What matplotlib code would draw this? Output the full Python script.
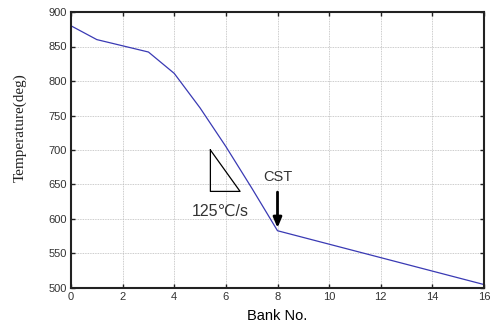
import matplotlib
matplotlib.use("Agg")
import matplotlib.pyplot as plt

bank = [0, 1, 2, 3, 4, 5, 6, 7, 8, 16]
temp = [880, 860, 851, 842, 811, 761, 705, 645, 583, 505]

xticks = [0, 2, 4, 6, 8, 10, 12, 14, 16]
yticks = [500, 550, 600, 650, 700, 750, 800, 850, 900]

tri_x = [5.4, 5.4, 6.55, 5.4]
tri_y = [700, 640, 640, 700]

fig = plt.figure(figsize=(4.91, 3.29), dpi=100)
ax = fig.add_axes([71/491, 1-288/329, (484-71)/491, (288-12)/329])

ax.plot(bank, temp, color='#3a3ab4', lw=0.9)
ax.plot(tri_x, tri_y, color='black', lw=0.9)

ax.text(5.8, 611, '125\u2103/s', fontsize=11.5, family=['Liberation Sans', 'DejaVu Sans'],
        ha='center', va='center', color='#333333')
ax.text(8.0, 661, 'CST', fontsize=10.5, family='Liberation Sans', ha='center', va='center', color='#333333')
ax.annotate('', xy=(8, 583), xytext=(8, 643),
            arrowprops=dict(arrowstyle='-|>,head_width=0.25,head_length=0.6', color='black', lw=2))

ax.set_xlim(0, 16)
ax.set_ylim(500, 900)
ax.set_xticks(xticks)
ax.set_yticks(yticks)
ax.grid(True, color='#bbbbbb', linestyle=(0, (1, 1)), lw=0.6)
ax.tick_params(direction='in', top=True, right=True, length=3, width=1, labelsize=8, pad=3, colors='#222222')
for lab in ax.get_xticklabels() + ax.get_yticklabels():
    lab.set_family('Liberation Sans')
    lab.set_color('#333333')
for s in ax.spines.values():
    s.set_linewidth(1.5)
    s.set_color('#222222')

ax.set_xlabel('Bank No.', fontsize=10.5, family='Liberation Sans', labelpad=5)
fig.text(20/491, 1-128/329, 'Temperature(deg)', rotation=90, fontsize=11,
         family='Liberation Serif', ha='center', va='center', color='#222222')

fig.savefig('out.png', dpi=100)
